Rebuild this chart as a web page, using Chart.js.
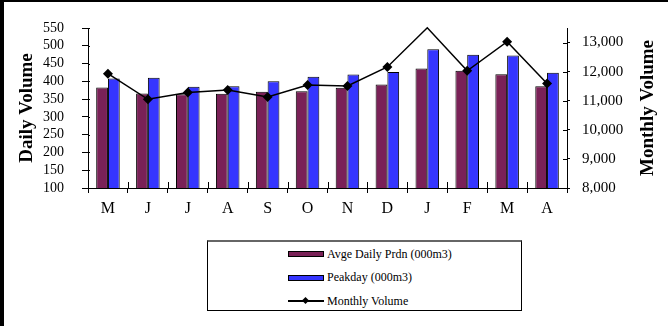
<!DOCTYPE html>
<html>
<head>
<meta charset="utf-8">
<script src="https://cdn.jsdelivr.net/npm/chart.js@4.4.1/dist/chart.umd.min.js"></script>
<style>
  html, body { margin: 0; padding: 0; background: #fff; }
  #wrap { position: relative; width: 668px; height: 326px; overflow: hidden; background: #fff; }
  #c { position: absolute; left: 0; top: 0; }
  #frame { position: absolute; left: 0; top: 0; width: 668px; height: 326px; box-sizing: border-box;
           border-left: 4px solid #000; border-top: 2px solid #000; pointer-events: none; }
  #legend { position: absolute; left: 207px; top: 240px; width: 315px; height: 71px; box-sizing: border-box;
            border: 1px solid #000; border-top: 2px solid #666; background: #fff;
            font-family: 'Liberation Serif', 'Times New Roman', serif; font-size: 12px; color: #000; }
  .row { position: absolute; left: 80px; height: 14px; display: flex; align-items: center; white-space: nowrap; }
  .sw { width: 36px; height: 6px; box-sizing: border-box; border: 1px solid #000; margin-right: 3px; }
  .ln { position: relative; width: 36px; height: 14px; margin-right: 3px; }
  .ln .bar { position: absolute; left: 0; right: 0; top: 6px; height: 1.5px; background: #000; }
  .ln .dot { position: absolute; left: 15px; top: 4px; width: 5px; height: 5px; background: #000; transform: rotate(45deg); }
</style>
</head>
<body>
<div id="wrap">
  <canvas id="c" width="668" height="326"></canvas>
  <div id="legend"></div>
  <div id="frame"></div>
</div>
<script>
// Months of the gas year, May to April
const months = ['M', 'J', 'J', 'A', 'S', 'O', 'N', 'D', 'J', 'F', 'M', 'A'];
// Average daily production (000m3)
const avgDaily = [383, 366, 364, 365, 371, 372, 382, 391, 436, 430, 420, 386];
// Peak day (000m3)
const peakday = [408, 410, 385, 386, 400, 413, 419, 426, 490, 475, 473, 424];
// Monthly volume (right axis)
const monthly = [11930, 11050, 11280, 11370, 11130, 11540, 11510, 12160, 13510, 12030, 13030, 11590];

// Axis tick labels
const dailyTicks = [100, 150, 200, 250, 300, 350, 400, 450, 500, 550];
const monthlyTicks = [8000, 9000, 10000, 11000, 12000, 13000];
const monthlyMax = 13500;

const serif = "'Liberation Serif', 'Times New Roman', serif";
const titleFont = { family: serif, size: 19, weight: 'bold' };

// Tick marks that cross the axis line: the library draws the outer part,
// this adds the part that reaches into the plot area.
const crossTicks = {
  id: 'crossTicks',
  afterDatasetsDraw(chart) {
    const ctx = chart.ctx;
    const ca = chart.chartArea;
    ctx.save();
    ctx.strokeStyle = '#000';
    ctx.lineWidth = 1;
    ctx.beginPath();
    const y = chart.scales.y;
    y.ticks.forEach((t, i) => {
      const p = Math.round(y.getPixelForTick(i)) + 0.5;
      ctx.moveTo(ca.left, p); ctx.lineTo(ca.left + 2, p);
    });
    const y2 = chart.scales.y2;
    y2.ticks.forEach((t, i) => {
      const p = Math.round(y2.getPixelForTick(i)) + 0.5;
      ctx.moveTo(ca.right, p); ctx.lineTo(ca.right - 4, p);
    });
    const x = chart.scales.x;
    const half = (x.getPixelForTick(1) - x.getPixelForTick(0)) / 2;
    for (let i = 0; i <= x.ticks.length; i++) {
      const p = Math.round(x.getPixelForTick(0) - half + i * 2 * half) + 0.5;
      ctx.moveTo(p, ca.bottom); ctx.lineTo(p, ca.bottom - 6);
    }
    ctx.stroke();
    ctx.restore();
  }
};

// Right axis title, written bottom-to-top like the left one
const rightTitle = {
  id: 'rightTitle',
  afterDraw(chart) {
    const s = chart.scales.y2;
    const ctx = chart.ctx;
    ctx.save();
    ctx.font = `${titleFont.weight} ${titleFont.size}px ${titleFont.family}`;
    ctx.fillStyle = '#000';
    ctx.textAlign = 'center';
    ctx.textBaseline = 'middle';
    ctx.translate(s.right - 20, (s.top + s.bottom) / 2);
    ctx.rotate(-Math.PI / 2);
    ctx.fillText('Monthly Volume', 0, 0);
    ctx.restore();
  }
};

const chart = new Chart(document.getElementById('c'), {
  type: 'bar',
  data: {
    labels: months,
    datasets: [
      {
        type: 'line',
        label: 'Monthly Volume',
        data: monthly,
        yAxisID: 'y2',
        borderColor: '#000',
        backgroundColor: '#000',
        borderWidth: 1.5,
        tension: 0,
        pointStyle: 'rectRot',
        pointRadius: (c) => (c.raw > monthlyMax ? 0 : 5),
        pointBorderWidth: 0,
        clip: false,
        order: 0
      },
      {
        label: 'Avge Daily Prdn (000m3)',
        data: avgDaily,
        yAxisID: 'y',
        backgroundColor: '#7a2157',
        borderColor: '#000',
        borderWidth: 1,
        categoryPercentage: 0.59,
        barPercentage: 1,
        order: 1
      },
      {
        label: 'Peakday (000m3)',
        data: peakday,
        yAxisID: 'y',
        backgroundColor: '#3535ff',
        borderColor: '#000',
        borderWidth: 1,
        categoryPercentage: 0.59,
        barPercentage: 1,
        order: 1
      }
    ]
  },
  options: {
    responsive: false,
    animation: false,
    events: [],
    layout: { padding: { top: 28, bottom: 98, left: 0, right: 0 } },
    plugins: { legend: { display: false }, tooltip: { enabled: false } },
    scales: {
      x: {
        offset: true,
        grid: { display: true, drawOnChartArea: false, offset: true, tickLength: 5, color: '#000' },
        border: { display: true, color: '#000', width: 1 },
        ticks: { color: '#000', font: { family: serif, size: 16 }, padding: 6, maxRotation: 0, autoSkip: false },
        afterFit: (s) => { s.height = 40; }
      },
      y: {
        position: 'left',
        min: dailyTicks[0], max: dailyTicks[dailyTicks.length - 1],
        grid: { display: true, drawOnChartArea: false, tickLength: 6, color: '#000' },
        border: { display: true, color: '#000', width: 1 },
        ticks: { color: '#000', font: { family: serif, size: 14 }, padding: 18, autoSkip: false },
        afterBuildTicks: (s) => { s.ticks = dailyTicks.map(v => ({ value: v })); },
        title: { display: true, text: 'Daily Volume', color: '#000',
                 font: titleFont, padding: { top: 16, bottom: 0 } },
        afterFit: (s) => { s.width = 88; }
      },
      y2: {
        position: 'right',
        min: monthlyTicks[0], max: monthlyMax,
        grid: { display: true, drawOnChartArea: false, tickLength: 3, color: '#000' },
        border: { display: true, color: '#000', width: 1 },
        ticks: { color: '#000', font: { family: serif, size: 15 }, padding: 12, autoSkip: false,
                 callback: (v) => Number(v).toLocaleString('en-US') },
        afterBuildTicks: (s) => { s.ticks = monthlyTicks.map(v => ({ value: v })); },
        afterFit: (s) => { s.width = 101; }
      }
    }
  },
  plugins: [crossTicks, rightTitle]
});

// Boxed legend, one entry per line, built from the chart's datasets
(function buildLegend() {
  const box = document.getElementById('legend');
  const rowsOrder = [1, 2, 0];
  rowsOrder.forEach((di, k) => {
    const ds = chart.data.datasets[di];
    const row = document.createElement('div');
    row.className = 'row';
    row.style.top = (5 + k * 23.5) + 'px';
    if (ds.type === 'line') {
      const ln = document.createElement('span');
      ln.className = 'ln';
      ln.innerHTML = '<span class="bar"></span><span class="dot"></span>';
      row.appendChild(ln);
    } else {
      const sw = document.createElement('span');
      sw.className = 'sw';
      sw.style.background = ds.backgroundColor;
      row.appendChild(sw);
    }
    const tx = document.createElement('span');
    tx.textContent = ds.label;
    row.appendChild(tx);
    box.appendChild(row);
  });
})();
</script>
</body>
</html>
